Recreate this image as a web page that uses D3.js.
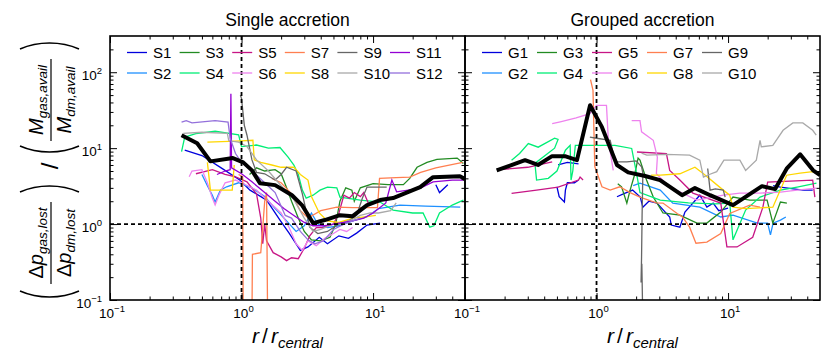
<!DOCTYPE html>
<html>
<head>
<meta charset="utf-8" />
<title>Single vs grouped accretion</title>
<script src="https://cdn.jsdelivr.net/npm/d3@7"></script>
<style>
  body { margin: 0; background: #fff; }
  svg { font-family: "Liberation Sans", Arial, sans-serif; }
</style>
</head>
<body>
<svg id="chart" width="831" height="363"></svg>
<script>
// ---- data: [r / r_central, ratio], null = gap in the track ----
const singleNames = ['S1','S2','S3','S4','S5','S6','S7','S8','S9','S10','S11','S12'];
const groupNames = ['G1','G2','G3','G4','G5','G6','G7','G8','G9','G10'];
const majorTicks = [0.1, 1, 10, 100];
const tickExps = ['\u22121', '0', '1', '2'];

const S1 = [[0.37,9.4],[0.5,8],[0.7,5.5],[0.97,3.8],[1.16,2.8],[1.55,2.07],[1.96,1.13],[2.3,0.76],[2.8,0.45],[3.2,0.5],[3.9,0.67],[4.5,0.55],[5.5,0.7],[6.5,0.65],[7.5,0.76],[9,0.97],[11.3,1.03],null,[30,3.3],[32,2.6],[37,3.3]];
const S2 = [[0.5,4.5],[0.55,3.2],[0.6,2.4],[0.63,1.95],[0.69,2.8],[0.77,3.1],[0.95,3.5],[1.2,3.0],[1.5,2.3],[1.8,1.6],[2.2,1.1],[2.6,0.8],[3,0.95],[3.4,1.4],[3.8,1.0],[4.5,0.9],[5.5,0.95],[7,1.1],[9,1.25],[11,1.6],[16,1.78],[25,1.72],[46,1.67]];
const S3 = [[1.15,4.5],[1.3,5.5],[1.5,5.0],[1.8,5.2],[2.0,4.6],[2.2,3.0],[2.4,2.0],[2.7,1.2],[3.0,0.8],[3.4,0.62],[4.0,0.6],[4.7,0.67],[5.2,1.0],[5.6,2.0],[6.2,3.0],[6.9,2.8],[7.2,2.0],[8,3.0],[10,3.4],[13,3.3],[17,3.3],[19,4],[21.6,5.6],[25.7,6.5],[30.6,7.1],[43.6,7.4],[48.6,6.3]];
const S4 = [[0.35,9],[0.37,14],[0.45,15.5],[0.63,16.7],[0.95,15],[1.0,10.5],[1.3,11],[1.6,10],[1.96,10.2],[2.26,7.6],[2.5,6],[2.7,4.5],[2.9,2.8],[3.1,2.2],[3.5,2.4],[3.95,2.8],[4.5,3.07],[5.3,3.0],[5.6,2.27],[8,2.07],[11.3,1.95],[14.2,1.53],[20,1.4],[24,1.4],[27,0.91],[29,0.95],[32,1.4],[40,1.78],[48.6,2.07]];
const S5 = [[0.45,4.6],[0.6,5.2],[0.75,4.5],[0.9,4.2],[1.1,3.6],[1.3,2.5],[1.4,1.2],[1.45,0.55],[1.5,1.0],[1.55,0.6],[1.74,0.42],[2.0,0.37],[2.2,0.33],[2.4,0.36],[2.7,0.35],[3.0,0.48],[3.3,0.7],[3.7,0.9],[4.2,0.9],[5.0,1.0],[5.5,1.4],[6.0,2.4],[6.6,2.2],[7.2,2.6],[8.0,2.3],[8.5,2.6],[9.2,1.9]];
const S6 = [[0.4,4.2],[0.42,5],[0.5,5.2],[0.55,3.5],[0.6,2.2],[0.63,1.78],[0.68,2.5],[0.75,3.5],[0.9,3.8],[1.0,3.5],[1.3,2.8],[1.6,2.0],[2.0,1.4],[2.3,0.9],[2.6,0.55],[2.9,0.45],[3.2,0.6],[3.7,0.52],[4.3,0.65],[5,0.75],[5.6,0.85],[6.3,0.8],[7,0.9]];
const S7 = [[0.95,4.5],[1.02,4.2],[1.03,0.05],null,[1.2,0.05],[1.21,0.4],[1.4,0.42],[1.45,0.9],[1.5,2.0],[1.55,2.6],[1.58,0.05],null,[1.7,4.0],[2.0,3.5],[2.4,2.5],[2.8,1.5],[3.2,1.2],[4.0,1.5],[5.3,1.67],[7,1.65],[10.8,1.65],[11.2,4.0],[15,4.1],[19,4.15],[23,4.8],[30,5.5],[48,6.5]];
const S8 = [[0.55,12],[0.8,12.3],[1.0,12.5],[1.22,12.7],[1.25,7],[1.4,6.5],[1.7,6.0],[2.0,5.6],[2.5,5.6],[2.8,4.5],[3.2,3.8],[3.4,2.3],[3.9,1.4],[4.5,1.1],[5.5,1.05],[7,1.2],[9,1.25],[10.5,1.3],null,[0.55,6.5],[0.58,2.8],[0.85,2.8],[0.88,6.0]];
const S9 = [[0.98,50],[1.0,45],[1.05,20],[1.1,14.8],[1.2,7],[1.3,4.8],[1.5,4.6],[1.8,3.8],[2.0,4.5],[2.2,5.6],[2.6,5.0],[2.9,2.5],[3.3,0.91],[3.8,0.75],[4.5,0.8],[5.5,1.0],[6.5,1.1],[7.5,1.3],[8.3,2.2],[9,3.07],[12.7,3.07]];
const S10 = [[0.36,15.7],[0.5,16.2],[0.78,15.7],[0.8,12.5],[0.95,12],[1.1,10.5],[1.3,7],[1.6,5],[2.0,3.2],[2.5,2.1],[3.0,1.2],[3.5,0.8],[4,0.85],[5,1.0],[6,1.05],[7,1.15],[8,1.3],[9.5,1.4],[11,1.4],[13.6,1.5],[15,1.9]];
const S11 = [[0.65,4.5],[0.75,5.0],[0.82,5.2],[0.83,52],[0.84,5.5],[1.0,4.6],[1.2,3.6],[1.5,2.6],[1.8,2.0],[2.1,1.6],[2.5,1.3],[3.0,1.05],[3.5,0.95],[4.2,0.95],[5,1.0],[6,1.05],[7,1.1],[8.5,1.2],[10,1.4],[12.5,1.9],[13.9,3.8],[15.1,2.66],[22.7,2.95],[28.6,3.6],[40,3.8],[48.6,3.8]];
const S12 = [[0.35,22],[0.38,23],[0.42,21.5],[0.63,23],[0.79,22],[0.82,13.5],[0.9,8.5],[1.0,6.5],[1.2,5],[1.5,3.5],[1.8,2.6],[2.15,1.3],[2.4,1.2],[2.8,0.8],[3.2,0.62],[3.6,0.55],[4.2,0.6],[5,0.85],[6,1.0],[7,1.1],[8,1.2]];

const G1 = [[0.51,6.0],[0.6,6.5],[0.73,6.2],null,[0.5,3.1],[0.52,2.3],[0.57,1.95],[0.58,2.8],[0.6,3.5],[0.68,3.5],[0.73,3.8],null,[1.43,2.29],[1.6,2.5],[1.88,2.8],[2.15,2.27],[2.25,1.67],[2.5,2.0],[2.88,1.89],[3.6,1.24],[3.7,0.97],[4.3,0.91],[4.7,1.44],[6.1,2.4],[6.9,1.67],[7.7,1.89],[8.5,1.5],[10,1.62],null,[22,3.2],[25,3.07],[37,2.8],[44,2.8]];
const G2 = [[1.9,3.2],[2.14,3.46],[3.05,2.8],[3.8,1.89],[6.1,1.67],[8.8,1.24],[10.9,1.31],[16.7,1.03],[20,1.03],[21,0.72],[22,1.03],[25,1.13],[27.5,1.24]];
const G3 = [[1.45,3.4],[1.55,3.1],[1.7,1.89],[1.8,2.8],[1.95,4.5],[2.07,7.4],[2.14,6.95],[2.4,3.8],[2.7,2.27],[3.2,1.4],[4.3,1.31],[5.8,1.03],[6.9,1.03],[8.8,1.44],[10.9,2.27],[14.6,2.07],[19.8,2.07],[21.9,1.03],[25,1.95],[28,1.89]];
const G4 = [[0.226,6.95],[0.26,8.5],[0.303,11.5],[0.36,10.3],[0.48,13.5],[0.51,13],[0.48,10],[0.34,6.3],[0.35,3.8],[0.43,4.0],[0.5,5],[0.58,9.4],[0.63,10.9],[0.64,3.8],[0.66,5],[0.69,10.9],[1.0,10.9],[1.38,10.9],[1.85,9.9],[2.0,5],[2.14,2.6],[3.05,2.07],[5,1.9],[8,1.85],[10.3,1.89],[10.9,0.62],[13.6,1.53],[17.5,2.27],[25,2.8],[33.5,3.07],[47,3.46]];
const G5 = [[0.179,5.2],[0.3,5.6],[0.46,6.6],null,[0.226,2.53],[0.35,2.8],[0.51,3.07],[0.73,3.8],[0.75,4.15],[0.79,3.8],null,[2.03,8.9],[3.4,8.5],[3.6,5.1],[4.3,3.8],[5.4,2.56],[8.8,1.89],[9.8,0.5],[11.7,0.5],[15.4,0.67],[18.4,1.67],[20,3.57],[44,3.8],[45.7,2.27]];
const G6 = [[0.46,21],[0.53,22.2],[0.7,25],[0.89,28.5],[1.0,36.7],[1.19,36.7],[1.23,12.7],[1.34,5.1],null,[1.85,23],[2.14,23],[2.2,16.4],[2.7,12.7],[2.9,7.6],[2.85,4.6],[3.6,3.07],[4.5,2.56],[5.8,2.07],[9.2,2.4],[12.3,2.56],[17.5,2.56],[25,2.63],[33.5,2.8],[47,2.97]];
const G7 = [[0.9,80],[0.94,57.6],[0.96,12],[0.97,5.7],[1.1,3.1],[1.27,2.8],[1.5,3.1],[1.8,2.6],[2.14,2.27],[2.85,1.9],[3.2,1.89],[4.1,1.38],[4.5,1.24],[5.1,0.91],[5.7,0.56],[6.9,0.58],[8.8,0.75],[10.3,1.38],[14.6,1.78],[17.5,1.67]];
const G8 = [[2.6,4.4],[3.05,4.4],[4.3,4.6],[5.6,5.6],[6.5,4.6],[9.2,2.8],[10.3,2.4],[10.9,1.67],[13.6,1.6],[21.9,1.67],[27.9,4.4],[35.3,4.7],[44,4.9],[50,4.5]];
const G9 = [[0.89,14],[1.0,13.5],[1.27,12.7],[1.35,8],[1.43,6.6],[1.7,6.6],[2.0,6.8],[2.2,5.7],[2.25,4.7],[2.22,1.3],[2.2,0.37],[2.18,0.17],[2.21,0.3],[2.25,0.05],null,[7.0,5.4],[7.3,2.8],[8,2.9],[9.2,2.8],[9.5,2.27]];
const G10 = [[2.2,8.6],[2.41,8.1],[3.4,8.3],[5.1,8.1],[6.1,6.95],[6.5,4.15],[7.2,4.5],[8.2,4.9],[9.3,6.95],[12.3,6.95],[13.6,5.1],[16.4,6.95],[17.5,12.7],[17.9,10.4],[21.9,10.9],[26.2,17.2],[31.1,21.5],[37,21.5],[44,17.2],[46.8,14.8]];

const singleMean = [[0.35,14.8],[0.46,11.6],[0.58,6.7],[0.86,7.4],[1.03,6.5],[1.2,5.1],[1.38,3.46],[1.8,3.26],[2.42,2.4],[2.88,1.78],[3.5,1.03],[4.3,1.13],[5.6,1.31],[7.0,1.27],[9.0,1.78],[11.3,2.07],[14.2,2.2],[22.8,3.07],[28.6,4.15],[45.7,4.28],[50,3.9]];
const groupMean = [[0.174,5.1],[0.286,6.95],[0.359,6.0],[0.459,7.85],[0.575,7.85],[0.71,6.95],[0.893,36.8],[1.10,18.9],[1.43,6.0],[1.74,4.8],[2.34,4.3],[3.04,3.8],[4.47,2.4],[5.6,2.98],[7.3,2.4],[10.9,1.78],[18.1,3.16],[22.8,2.89],[28.1,5.46],[35.3,8.3],[44.3,5.1],[50,4.4]];

const singleSeries = [S1,S2,S3,S4,S5,S6,S7,S8,S9,S10,S11,S12];
const groupSeries = [G1,G2,G3,G4,G5,G6,G7,G8,G9,G10];

// styles
const palette = ['#0000dd','#1e90ff','#228b22','#00ee76','#c71585','#ee82ee',
                 '#ff7f50','#ffd700','#666666','#a9a9a9','#9400d3','#9370db'];

const svg = d3.select('#chart');
const y = d3.scaleLog().domain([0.1, 300]).range([300, 36]);

const panels = [
  { id: 'single', title: 'Single accretion', series: singleSeries, names: singleNames,
    mean: singleMean, x: d3.scaleLog().domain([0.1, 50]).range([110, 465]),
    legX: 127, legStep: 52.6, yLabels: true },
  { id: 'group', title: 'Grouped accretion', series: groupSeries, names: groupNames,
    mean: groupMean, x: d3.scaleLog().domain([0.1, 50]).range([465, 820]),
    legX: 482, legStep: 55, yLabels: false }
];

function minorsFor(domain) {
  const out = [];
  for (let e = -2; e <= 3; e++) {
    for (let m = 2; m <= 9; m++) {
      const v = m * Math.pow(10, e);
      if (v > domain[0] && v < domain[1]) out.push(v);
    }
  }
  return out;
}

function tickAxis(axis, tr) {
  svg.append('g').attr('transform', tr)
    .call(axis.tickFormat(''))
    .call(g => g.select('.domain').remove())
    .selectAll('line').attr('stroke', '#000').attr('stroke-width', 1);
}

function supLabel(sel, base, exp) {
  sel.append('tspan').text(base);
  sel.append('tspan').attr('dy', -6).attr('font-size', 9.5).text(exp);
}

panels.forEach(p => {
  const x = p.x;
  const [x0, x1] = x.range();
  const clipId = 'clip-' + p.id;
  svg.append('clipPath').attr('id', clipId)
    .append('rect').attr('x', x0).attr('y', 36).attr('width', x1 - x0).attr('height', 264);

  const line = d3.line().defined(d => d !== null).x(d => x(d[0])).y(d => y(d[1]));
  const plot = svg.append('g').attr('clip-path', `url(#${clipId})`);

  plot.selectAll('path.track')
    .data(p.series)
    .join('path')
    .attr('class', 'track')
    .attr('d', line)
    .attr('fill', 'none')
    .attr('stroke', (d, i) => palette[i])
    .attr('stroke-width', 1.3);

  plot.append('path')
    .attr('d', line(p.mean))
    .attr('fill', 'none')
    .attr('stroke', '#000')
    .attr('stroke-width', 4)
    .attr('stroke-linejoin', 'round');

  // reference lines at 1
  plot.append('line')
    .attr('x1', x0).attr('x2', x1).attr('y1', y(1)).attr('y2', y(1))
    .attr('stroke', '#000').attr('stroke-width', 1.8).attr('stroke-dasharray', '4,3');
  plot.append('line')
    .attr('x1', x(1)).attr('x2', x(1)).attr('y1', 36).attr('y2', 300)
    .attr('stroke', '#000').attr('stroke-width', 1.8).attr('stroke-dasharray', '4,3');

  // ticks on all four sides, pointing inward
  const xMaj = majorTicks.filter(v => v >= 0.1 && v <= 50);
  const xMin = minorsFor(x.domain());
  const yMin = minorsFor(y.domain());
  tickAxis(d3.axisBottom(x).tickValues(xMaj).tickSize(-7), 'translate(0,300)');
  tickAxis(d3.axisBottom(x).tickValues(xMin).tickSize(-3.5), 'translate(0,300)');
  tickAxis(d3.axisTop(x).tickValues(xMaj).tickSize(-7), 'translate(0,36)');
  tickAxis(d3.axisTop(x).tickValues(xMin).tickSize(-3.5), 'translate(0,36)');
  tickAxis(d3.axisLeft(y).tickValues(majorTicks).tickSize(-7), `translate(${x0},0)`);
  tickAxis(d3.axisLeft(y).tickValues(yMin).tickSize(-3.5), `translate(${x0},0)`);
  tickAxis(d3.axisRight(y).tickValues(majorTicks).tickSize(-7), `translate(${x1},0)`);
  tickAxis(d3.axisRight(y).tickValues(yMin).tickSize(-3.5), `translate(${x1},0)`);

  // frame
  svg.append('rect')
    .attr('x', x0).attr('y', 36).attr('width', x1 - x0).attr('height', 264)
    .attr('fill', 'none').attr('stroke', '#000').attr('stroke-width', 1.6);

  // x tick labels
  xMaj.forEach((v, i) => {
    const t = svg.append('text')
      .attr('x', x(v) + 2).attr('y', 318)
      .attr('text-anchor', 'middle').attr('font-size', 13.5);
    supLabel(t, '10', tickExps[i]);
  });

  if (p.yLabels) {
    majorTicks.forEach((v, i) => {
      const t = svg.append('text')
        .attr('x', x0 - 8).attr('y', y(v) + 8)
        .attr('text-anchor', 'end').attr('font-size', 13.5);
      supLabel(t, '10', tickExps[i]);
    });
  }

  // title
  svg.append('text')
    .attr('x', (x0 + x1) / 2).attr('y', 26)
    .attr('text-anchor', 'middle').attr('font-size', 17.5)
    .text(p.title);

  // x label: r / r_central
  const xl = svg.append('text')
    .attr('x', (x0 + x1) / 2).attr('y', 343)
    .attr('text-anchor', 'middle').attr('font-size', 21).attr('font-style', 'italic');
  xl.append('tspan').text('r');
  xl.append('tspan').attr('font-style', 'normal').attr('dx', 3).text('/');
  xl.append('tspan').attr('dx', 3).text('r');
  xl.append('tspan').attr('dy', 5).attr('font-size', 15).text('central');

  // legend, 2 rows
  const leg = svg.append('g');
  p.names.forEach((name, i) => {
    const col = Math.floor(i / 2), row = i % 2;
    const lx = p.legX + col * p.legStep;
    const ly = row === 0 ? 52.5 : 73;
    leg.append('line')
      .attr('x1', lx).attr('x2', lx + 20).attr('y1', ly).attr('y2', ly)
      .attr('stroke', palette[i]).attr('stroke-width', 1.3);
    leg.append('text')
      .attr('x', lx + 26).attr('y', ly + 5.5)
      .attr('font-size', 15)
      .text(name);
  });
});

// y label, rotated
const yl = svg.append('g').attr('transform', 'translate(48,170) rotate(-90)');

function paren(u, open) {
  const s = open ? 1 : -1;
  yl.append('path')
    .attr('d', `M${u + 4 * s},-28 C${u - 4 * s},-10 ${u - 4 * s},13 ${u + 4 * s},31`)
    .attr('fill', 'none').attr('stroke', '#000').attr('stroke-width', 1.6);
}

function fraction(u, top, bottom) {
  [[top, -5], [bottom, 23]].forEach(([parts, v]) => {
    const t = yl.append('text').attr('x', u).attr('y', v)
      .attr('text-anchor', 'middle').attr('font-size', 20);
    t.append('tspan').attr('font-style', parts[0] === '\u0394' ? 'normal' : 'italic').text(parts[0]);
    if (parts[1]) t.append('tspan').attr('font-style', 'italic').text(parts[1]);
    t.append('tspan').attr('font-style', 'italic').attr('font-size', 13.5).attr('dy', 4).text(parts[2]);
  });
  yl.append('line')
    .attr('x1', u - 41).attr('x2', u + 41).attr('y1', 3).attr('y2', 3)
    .attr('stroke', '#000').attr('stroke-width', 1.2);
}

paren(-125, true);
fraction(-73, ['\u0394', 'p', 'gas,lost'], ['\u0394', 'p', 'dm,lost']);
paren(-18, false);
yl.append('text').attr('x', 4).attr('y', 10).attr('text-anchor', 'middle')
  .attr('font-size', 24).text('/');
paren(20, true);
fraction(70, ['M', '', 'gas,avail'], ['M', '', 'dm,avail']);
paren(125, false);
</script>
</body>
</html>
